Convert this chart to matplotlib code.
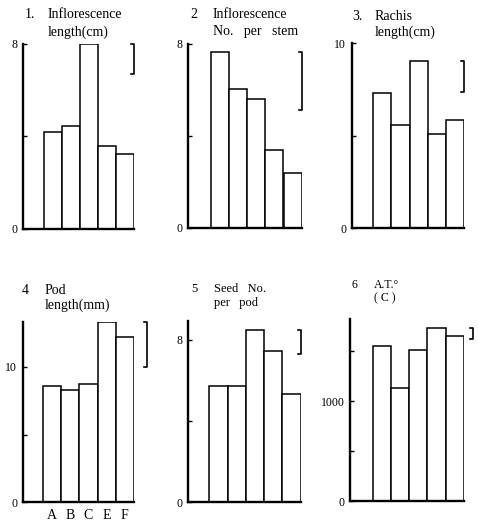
import matplotlib
matplotlib.use("Agg")
import matplotlib.pyplot as plt

plt.rcParams["font.family"] = "Liberation Serif"

W, H = 478, 522

categories = ["A", "B", "C", "E", "F"]

infl_length = [4.2, 4.45, 8.0, 3.6, 3.25]
infl_number = [7.65, 6.05, 5.6, 3.4, 2.4]
rachis_length = [7.3, 5.6, 9.05, 5.1, 5.85]
pod_length = [8.6, 8.3, 8.7, 13.3, 12.2]
seed_number = [5.75, 5.75, 8.5, 7.45, 5.35]
acc_temp = [1550, 1130, 1515, 1735, 1655]

# LSD bars (length of the bracket in data units)
lsd = [1.3, 2.5, 1.7, 3.3, 1.2, 110]

titles = [
    ("1.", "Inflorescence", "length(cm)"),
    ("2", "Inflorescence", "No.   per   stem"),
    ("3.", "Rachis", "length(cm)"),
    ("4", "Pod", "length(mm)"),
    ("5", "Seed   No.", "per   pod"),
    ("6", "A.T.°", "( C )"),
]
yticks = [[0, 4, 8], [0, 4, 8], [0, 5, 10], [0, 5, 10], [0, 4, 8], [0, 500, 1000, 1500]]
yticklabels = [["0", "", "8"], ["0", "", "8"], ["0", "", "10"],
               ["0", "", "10"], ["0", "", "8"], ["0", "", "1000", ""]]
ytops = [8, 8, 10, 13.32, 8.95, 1817]
series = [infl_length, infl_number, rachis_length, pod_length, seed_number, acc_temp]

# layout in pixels: spine x, first bar left, last bar right, baseline y, top y,
# title x, title line centres, title font size, bracket offset
layout = [
    (23, 44, 134, 229, 44, 25, (15, 32), 10, 0),
    (188, 210.7, 301.7, 228, 44, 190, (15, 32), 10, 0),
    (351.7, 373.3, 464, 228.3, 43.3, 352, (16, 32), 10, 0),
    (22.7, 43.3, 133.7, 502.3, 321.7, 22, (290, 305), 10, 13),
    (187.7, 209.3, 300.7, 502.3, 320.7, 191, (289, 303), 9, 0),
    (350, 372.7, 464, 501, 319.3, 351, (285, 298), 8.5, 9),
]

fig = plt.figure(figsize=(W / 100, H / 100), dpi=100)

for k in range(6):
    sx, bl, br, yb, yt, tx, tys, fs, boff = layout[k]
    ax = fig.add_axes([sx / W, 1 - yb / H, (br - sx) / W, (yb - yt) / H])
    w = (br - bl) / 5
    pos = list(range(len(categories)))
    ax.bar(pos, series[k], width=1.0, color="white", edgecolor="black",
           linewidth=1.1, zorder=2)
    ax.set_xlim(-0.5 - (bl - sx) / w, 4.5)
    ax.set_ylim(0, ytops[k])
    for s in ["top", "right"]:
        ax.spines[s].set_visible(False)
    ax.spines["left"].set_linewidth(1.7)
    ax.spines["bottom"].set_linewidth(1.7)
    ax.set_yticks(yticks[k])
    ax.set_yticklabels(yticklabels[k])
    ax.tick_params(axis="y", direction="in", length=3, width=1, pad=4, labelsize=8.5)
    if k == 3:
        ax.set_xticks(pos)
        ax.set_xticklabels(categories)
        ax.tick_params(axis="x", length=0, pad=5, labelsize=10)
    else:
        ax.set_xticks([])

    # LSD bracket
    top = max(series[k])
    bx = 4.5 + boff / w
    sw = 3 / w
    ax.plot([bx - sw, bx, bx, bx - sw], [top, top, top - lsd[k], top - lsd[k]],
            color="black", linewidth=1.2, clip_on=False)

    num, line1, line2 = titles[k]
    fig.text(tx / W, 1 - tys[0] / H, num, fontsize=fs, va="center", ha="left")
    fig.text((tx + 23) / W, 1 - tys[0] / H, line1, fontsize=fs, va="center", ha="left")
    fig.text((tx + 23) / W, 1 - tys[1] / H, line2, fontsize=fs, va="center", ha="left")

fig.savefig("out.png", dpi=100)
